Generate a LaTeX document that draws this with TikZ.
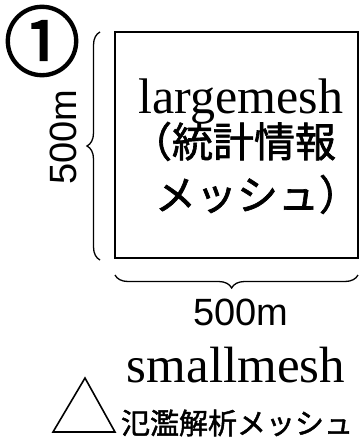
\documentclass[tikz,border=0pt]{standalone}
\usepackage{fontspec}
\setmainfont{Liberation Serif}
\newfontfamily\arialfont{Liberation Sans}
\newfontfamily\jpfont[FakeBold=1.6]{Noto Sans CJK JP}
\newfontfamily\circfont[FakeBold=2.5]{Noto Sans CJK JP}
\usetikzlibrary{decorations.pathreplacing}
\begin{document}
\begin{tikzpicture}[x=1pt,y=-1pt,
  lbl/.style={inner sep=0pt,outer sep=0pt},
  serifbig/.style={lbl,font=\fontsize{50}{50}\selectfont},
  jptext/.style={lbl,font=\jpfont\fontsize{41}{41}\selectfont},
  dimtext/.style={lbl,font=\arialfont\fontsize{38}{38}\selectfont},
  bracestyle/.style={line width=1.3pt,decorate,decoration={brace,amplitude=13pt,aspect=0.5}}]
\useasboundingbox (0,0) rectangle (359,442);
% number
\node[lbl,font=\circfont\fontsize{76}{76}\selectfont] (num) at (42,41) {①};
% large mesh box
\draw[line width=2pt] (115,32) rectangle (358,258);
\node[serifbig,anchor=base] (large) at (241,113) {largemesh};
\node[jptext,anchor=base east] (jp1) at (336,157) {（統計情報};
\node[jptext,anchor=base west] (jp2) at (155,210) {メッシュ）};
% braces
\coordinate (lbb) at (100,260);
\coordinate (lbt) at (100,32);
\draw[bracestyle] (lbb) -- (lbt);
\coordinate (bbr) at (358,275);
\coordinate (bbl) at (115,275);
\draw[bracestyle,decoration={aspect=0.52}] (bbr) -- (bbl);
% dimension labels
\node[dimtext,anchor=base,rotate=90] (dimv) at (76,137) {500m};
\node[dimtext,anchor=base] (dimh) at (241,325) {500m};
% small mesh
\node[lbl,font=\fontsize{51}{51}\selectfont,anchor=base] (small) at (236,382) {smallmesh};
\draw[line width=1.6pt,line join=miter] (85,378) -- (115,432) -- (53,432) -- cycle;
\node[lbl,font=\jpfont\fontsize{29}{29}\selectfont,anchor=base west] (flood) at (121,434) {氾濫解析メッシュ};
\end{tikzpicture}
\end{document}
